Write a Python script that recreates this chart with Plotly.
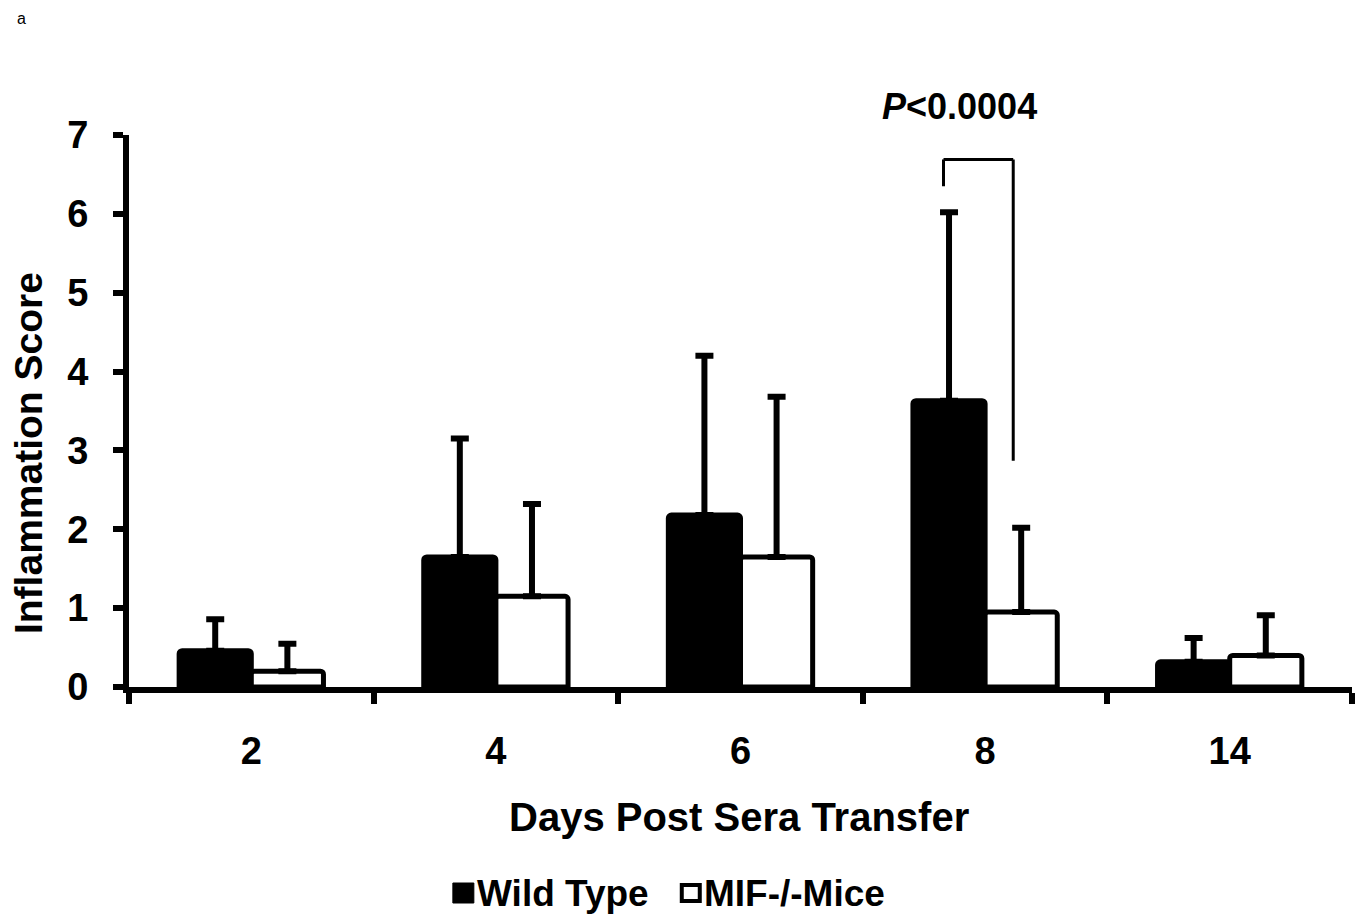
import plotly.graph_objects as go

# ---- data ----
days = ["2", "4", "6", "8", "14"]
wt_mean = [0.46, 1.65, 2.18, 3.63, 0.32]
wt_sem = [0.40, 1.50, 2.02, 2.39, 0.30]
mif_mean = [0.20, 1.15, 1.65, 0.95, 0.40]
mif_sem = [0.35, 1.17, 2.03, 1.07, 0.51]
y_ticks = [0, 1, 2, 3, 4, 5, 6, 7]
series_names = ["Wild Type", "MIF-/-Mice"]
p_text = "<b><i>P</i>&lt;0.0004</b>"

FONT = "Liberation Sans, Arial, sans-serif"
OFF = 8  # page body margin offset
W, H = 1366 - OFF, 924 - OFF
PL, PR, PT, PB = 129 - OFF, 1352.5 - OFF, 135 - OFF, 687 - OFF


def px(x):
    """page x pixel -> paper fraction"""
    return (x - OFF - PL) / (PR - PL)


def py(y):
    """page y pixel -> paper fraction"""
    return (PB - (y - OFF)) / (PB - PT)


zeros = [0] * len(days)

fig = go.Figure()
fig.add_trace(go.Bar(
    x=days, y=wt_mean, name=series_names[0],
    marker=dict(color="black", line=dict(color="black", width=5), cornerradius=3),
    error_y=dict(type="data", symmetric=False, array=wt_sem, arrayminus=zeros,
                 color="black", thickness=6, width=9),
))
fig.add_trace(go.Bar(
    x=days, y=mif_mean, name=series_names[1],
    marker=dict(color="white", line=dict(color="black", width=5), cornerradius=3),
    error_y=dict(type="data", symmetric=False, array=mif_sem, arrayminus=zeros,
                 color="black", thickness=6, width=9),
))

# significance bracket at day 8
i8 = days.index("8")
bl, br = i8 - 0.17, i8 + 0.115
btop, bleft, bright = 6.69, 6.35, 2.87
for (x0, y0, x1, y1) in [(bl, bleft, bl, btop), (bl, btop, br, btop), (br, btop, br, bright)]:
    fig.add_shape(type="line", xref="x", yref="y", x0=x0, y0=y0, x1=x1, y1=y1,
                  line=dict(color="black", width=3))

annotations = [
    dict(text=p_text, xref="paper", yref="paper", x=px(960), y=py(106), showarrow=False,
         xanchor="center", yanchor="middle",
         font=dict(family=FONT, size=36, color="black")),
    dict(text="a", xref="paper", yref="paper", x=px(15), y=py(8.5), showarrow=False,
         xanchor="left", yanchor="top", font=dict(family=FONT, size=16, color="black")),
    dict(text="<b>Inflammation Score</b>", xref="paper", yref="paper", x=px(28), y=py(453),
         textangle=-90, showarrow=False, xanchor="center", yanchor="middle",
         font=dict(family=FONT, size=39, color="black")),
    dict(text="<b>Days Post Sera Transfer</b>", xref="paper", yref="paper", x=px(739), y=py(817),
         showarrow=False, xanchor="center", yanchor="middle",
         font=dict(family=FONT, size=40, color="black")),
    dict(text="<b>" + series_names[0] + "</b>", xref="paper", yref="paper", x=px(475), y=py(893),
         showarrow=False, xanchor="left", yanchor="middle",
         font=dict(family=FONT, size=37, color="black")),
    dict(text="<b>" + series_names[1] + "</b>", xref="paper", yref="paper", x=px(702), y=py(893),
         showarrow=False, xanchor="left", yanchor="middle",
         font=dict(family=FONT, size=37, color="black")),
]

# legend swatches
fig.add_shape(type="rect", xref="paper", yref="paper", x0=px(453), x1=px(474), y0=py(903), y1=py(883),
              fillcolor="black", line=dict(color="black", width=1))
fig.add_shape(type="rect", xref="paper", yref="paper", x0=px(682), x1=px(700), y0=py(901), y1=py(885),
              fillcolor="white", line=dict(color="black", width=4))

fig.update_layout(
    width=W, height=H,
    margin=dict(l=PL, r=W - PR, t=PT, b=H - PB, pad=0),
    paper_bgcolor="white", plot_bgcolor="white",
    barmode="group", bargap=0.41, bargroupgap=0,
    showlegend=False,
    annotations=annotations,
    font=dict(family=FONT, color="black"),
)
fig.update_xaxes(
    type="category", categoryorder="array", categoryarray=days,
    tickson="boundaries", ticks="outside", ticklen=11, tickwidth=6, tickcolor="black",
    showline=True, linewidth=6, linecolor="black", showgrid=False, zeroline=False,
    tickfont=dict(family=FONT, size=38, color="black", weight="bold"),
    ticklabelstandoff=25,
)
fig.update_yaxes(
    range=[0, 7], tickvals=y_ticks, ticktext=[str(v) for v in y_ticks],
    ticks="outside", ticklen=10, tickwidth=6, tickcolor="black",
    showline=True, linewidth=6, linecolor="black", showgrid=False, zeroline=False,
    tickfont=dict(family=FONT, size=38, color="black", weight="bold"),
    ticklabelstandoff=17,
)

fig.write_html("out.html")
